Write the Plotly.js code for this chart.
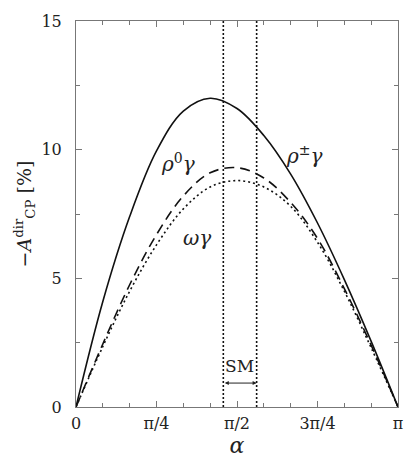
<!DOCTYPE html>
<html>
<head>
<meta charset="utf-8">
<script src="https://cdn.plot.ly/plotly-3.0.1.min.js"></script>
<style>
  html, body { margin: 0; padding: 0; background: #fff; }
  #chart { width: 419px; height: 467px; }
</style>
</head>
<body>
<div id="chart"></div>
<script>
// alpha grid, in units of pi (steps of pi/12)
var alphaOverPi = [0, 1/12, 2/12, 3/12, 4/12, 5/12, 6/12, 7/12, 8/12, 9/12, 10/12, 11/12, 1];

// -A_CP^dir [%]
var rhoCharged = [0, 4.1, 7.4, 9.95, 11.5, 12.0, 11.6, 10.55, 9.05, 7.15, 4.95, 2.55, 0];
var rhoNeutral = [0, 2.45, 4.75, 6.7, 8.2, 9.1, 9.3, 8.9, 7.95, 6.55, 4.6, 2.4, 0];
var omegaGamma = [0, 2.35, 4.5, 6.3, 7.7, 8.55, 8.8, 8.55, 7.8, 6.4, 4.5, 2.3, 0];

// Standard Model range for alpha (units of pi)
var smRange = [0.4575, 0.561];
var yRange = [0, 15];

var xTickVals = [0, 0.25, 0.5, 0.75, 1];
var xTickText = ["0", "π/4", "π/2", "3π/4", "π"];

var alpha = alphaOverPi.map(a => a * Math.PI);

function curve(y, dash) {
  return {
    x: alpha, y: y, type: "scatter", mode: "lines",
    line: { color: "#111", width: 1.6, dash: dash, shape: "spline", smoothing: 1 },
    hoverinfo: "skip"
  };
}

var data = [
  curve(rhoCharged, "solid"),
  curve(rhoNeutral, "10px,6px"),
  curve(omegaGamma, "2px,3px")
];

// vertical dotted lines marking the SM range
smRange.forEach(function (a) {
  data.push({
    x: [a * Math.PI, a * Math.PI], y: yRange, type: "scatter", mode: "lines",
    line: { color: "#111", width: 1.6, dash: "2px,2px" }, hoverinfo: "skip"
  });
});

var serif = '"DejaVu Serif", "Liberation Serif", serif';
var smMid = (smRange[0] + smRange[1]) / 2 * Math.PI;

var layout = {
  width: 419, height: 467,
  margin: { l: 76, r: 21, t: 21, b: 60 },
  paper_bgcolor: "#fff", plot_bgcolor: "#fff",
  showlegend: false,
  font: { family: serif, size: 16, color: "#222" },
  xaxis: {
    range: [0, Math.PI],
    tickvals: xTickVals.map(v => v * Math.PI),
    ticktext: xTickText,
    ticks: "inside", ticklen: 6, tickcolor: "#777",
    minor: { tick0: 0, dtick: Math.PI / 12, ticks: "inside", ticklen: 4, tickcolor: "#777" },
    showgrid: false, zeroline: false,
    showline: true, linecolor: "#777", linewidth: 1, mirror: "ticks",
    ticklabelstandoff: 2,
    title: { text: "<i>α</i>", font: { size: 22 }, standoff: 0 }
  },
  yaxis: {
    range: yRange,
    tickvals: [0, 5, 10, 15],
    ticks: "inside", ticklen: 6, tickcolor: "#777",
    minor: { tick0: 0, dtick: 2.5, ticks: "inside", ticklen: 4, tickcolor: "#777" },
    showgrid: false, zeroline: false,
    showline: true, linecolor: "#777", linewidth: 1, mirror: "ticks",
    ticklabelstandoff: 10,
    title: { text: "−<i>A</i><sup>dir</sup><sub>CP</sub> [%]", font: { size: 19 }, standoff: 4 }
  },
  annotations: [
    { x: 0.317 * Math.PI, y: 9.5, text: "<i>ρ</i><sup>0</sup><i>γ</i>", showarrow: false, font: { size: 20 } },
    { x: 0.711 * Math.PI, y: 9.8, text: "<i>ρ</i><sup>±</sup><i>γ</i>", showarrow: false, font: { size: 20 } },
    { x: 0.375 * Math.PI, y: 6.57, text: "<i>ωγ</i>", showarrow: false, font: { size: 20 } },
    { x: smMid, y: 1.6, text: "SM", showarrow: false, font: { size: 17 } },
    {
      x: smRange[1] * Math.PI, y: 0.93, ax: smRange[0] * Math.PI, ay: 0.93,
      axref: "x", ayref: "y", xref: "x", yref: "y",
      text: "", showarrow: true, arrowside: "end+start",
      arrowhead: 2, arrowsize: 0.8, arrowwidth: 1, arrowcolor: "#222", standoff: 0, startstandoff: 0
    }
  ]
};

Plotly.newPlot("chart", data, layout, { displayModeBar: false, staticPlot: true });
</script>
</body>
</html>
